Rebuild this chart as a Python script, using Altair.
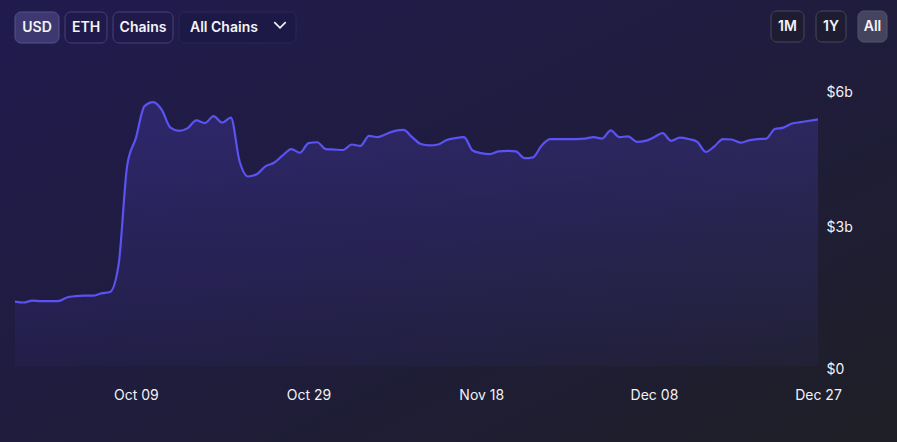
import altair as alt
import pandas as pd

# ---- data (billions USD, daily) ----
start_date = "2024-09-25"
tvl_billion = [
    1.41, 1.39, 1.43, 1.42, 1.42, 1.42, 1.50, 1.53, 1.54, 1.54,
    1.59, 1.62, 2.22, 4.40, 4.99, 5.69, 5.78, 5.61, 5.22, 5.15,
    5.21, 5.38, 5.32, 5.47, 5.33, 5.44, 4.49, 4.15, 4.20, 4.37,
    4.45, 4.61, 4.75, 4.67, 4.88, 4.90, 4.75, 4.74, 4.73, 4.85,
    4.82, 5.04, 5.01, 5.08, 5.15, 5.17, 5.01, 4.86, 4.83, 4.85,
    4.95, 4.99, 5.01, 4.72, 4.66, 4.64, 4.70, 4.71, 4.70, 4.55,
    4.57, 4.83, 4.97, 4.97, 4.97, 4.97, 4.98, 5.01, 4.98, 5.16,
    5.01, 5.03, 4.91, 4.93, 5.01, 5.10, 4.93, 5.00, 4.97, 4.91,
    4.69, 4.81, 4.97, 4.96, 4.89, 4.94, 4.97, 4.98, 5.19, 5.22,
    5.31, 5.34, 5.37, 5.40,
]
dates = pd.date_range(start_date, periods=len(tvl_billion), freq="D")
x_ticks = [(2024, 10, 9), (2024, 10, 29), (2024, 11, 18), (2024, 12, 8), (2024, 12, 27)]
y_ticks = [0, 3, 6]
left_buttons = ["USD", "ETH", "Chains"]
dropdown_label = "All Chains"
right_buttons = ["1M", "1Y", "All"]

df = pd.DataFrame({"date": dates, "tvl": tvl_billion})

FONT = "Inter"
W, H = 803, 274
PAD = {"left": 15, "top": 92, "right": 79, "bottom": 76}

x_enc = alt.X(
    "date:T",
    scale=alt.Scale(
        domain=[alt.DateTime(year=2024, month=9, date=25),
                alt.DateTime(year=2024, month=12, date=27)],
        nice=False,
    ),
    axis=alt.Axis(
        values=[alt.DateTime(year=y, month=m, date=d) for (y, m, d) in x_ticks],
        format="%b %d", title=None, domain=False, ticks=False, grid=False,
        labelFlush=False, labelOverlap=False, labelPadding=22,
        labelColor="#f2f2f7", labelFontSize=14, labelFont=FONT, zindex=2,
    ),
)
y_enc = alt.Y(
    "tvl:Q",
    scale=alt.Scale(domain=[0, 6], nice=False, zero=True),
    axis=alt.Axis(
        orient="right", values=y_ticks, title=None, domain=False, ticks=False,
        grid=False, labelFlush=False, labelPadding=8, labelAlign="left",
        labelBaseline="middle",
        labelOffset={"expr": "datum.value == 0 ? 3 : (datum.value == 3 ? -2 : 0)"},
        labelExpr="datum.value == 0 ? '$0' : '$' + datum.value + 'b'",
        labelColor="#f2f2f7", labelFontSize=14, labelFont=FONT, zindex=2,
    ),
)

one = pd.DataFrame({"k": [0]})

bg = alt.Chart(one).mark_rect(
    color=alt.Gradient(
        gradient="linear", x1=0, y1=0, x2=1, y2=1,
        stops=[alt.GradientStop(color="#211b4e", offset=0),
               alt.GradientStop(color="#1f1c3d", offset=0.5),
               alt.GradientStop(color="#1e1f26", offset=1)],
    )
).encode(x=alt.value(-PAD["left"]), x2=alt.value(W + PAD["right"]),
         y=alt.value(-PAD["top"]), y2=alt.value(H + PAD["bottom"]))

area = alt.Chart(df).mark_area(
    interpolate="monotone",
    color=alt.Gradient(
        gradient="linear", x1=0, y1=0, x2=0, y2=1,
        stops=[alt.GradientStop(color="rgba(95,80,235,0.22)", offset=0),
               alt.GradientStop(color="rgba(95,80,235,0.05)", offset=1)],
    ),
).encode(x=x_enc, y=y_enc)

line = alt.Chart(df).mark_line(
    interpolate="monotone", color="#5b52f2", strokeWidth=2.2
).encode(x="date:T", y="tvl:Q")

# ---- UI buttons (decoration, pixel placed) ----
def px(x):
    return x - PAD["left"]

def py(y):
    return y - PAD["top"]

button_specs = [
    # label, x0, x1, y0, y1, fill, stroke, text_x, align
    (left_buttons[0], 15, 59, 12, 43, "#3d3970", "#57528e", 37, "center"),
    (left_buttons[1], 65, 107, 12, 43, "#1f1a4a", "#48437a", 86, "center"),
    (left_buttons[2], 113, 173, 12, 43, "#1f1a4a", "#48437a", 143, "center"),
    (dropdown_label, 179, 296, 12, 43, "#1d1946", "#2b275a", 190, "left"),
    (right_buttons[0], 771, 804, 11, 42, "#1e1c31", "#48475e", 787.5, "center"),
    (right_buttons[1], 816, 846, 11, 42, "#1e1c31", "#48475e", 831, "center"),
    (right_buttons[2], 858, 887, 11, 42, "#45445e", "#55546d", 872.5, "center"),
]

deco = []
for label, x0, x1, y0, y1, fill, stroke, tx, al in button_specs:
    deco.append(
        alt.Chart(one).mark_rect(
            cornerRadius=6, fill=fill, stroke=stroke, strokeWidth=1
        ).encode(x=alt.value(px(x0)), x2=alt.value(px(x1)),
                 y=alt.value(py(y0)), y2=alt.value(py(y1)))
    )
    deco.append(
        alt.Chart(one).mark_text(
            text=label, font=FONT, fontSize=14, fontWeight=600,
            color="#f4f4f8", align=al, baseline="middle",
        ).encode(x=alt.value(px(tx)), y=alt.value(py((y0 + y1) / 2 + 0.5)))
    )

chevron = alt.Chart(one).mark_point(
    shape="M -1 -0.5 L 0 0.5 L 1 -0.5", filled=False, stroke="#f4f4f8",
    strokeWidth=1.6, size=130, opacity=1,
).encode(x=alt.value(px(280)), y=alt.value(py(25)))

chart = alt.layer(bg, area, line, *deco, chevron).properties(
    width=W, height=H,
    autosize=alt.AutoSizeParams(type="none"),
    padding=PAD,
    background="#1f1c3d",
).configure_view(stroke=None)

chart.save("out.html", embed_options={"renderer": "svg", "actions": False})
